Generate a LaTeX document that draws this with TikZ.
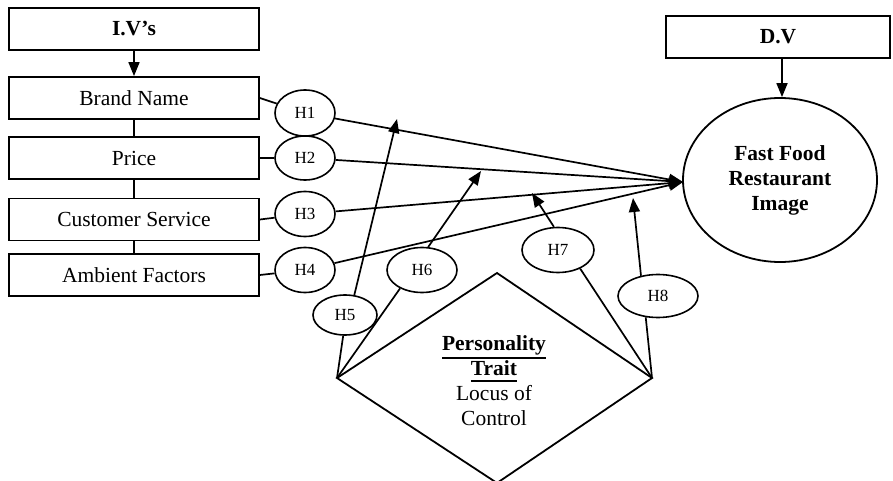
\documentclass[tikz,border=0pt]{standalone}
\usepackage{fontspec}
\setmainfont{Liberation Serif}
\usetikzlibrary{arrows.meta,shapes.geometric}
% bold word with a heavy rule a fixed distance below it
\newcommand{\ulbold}[2]{\leavevmode\vtop{\hbox{\textbf{#1}}\kern#2\hrule height 2pt}}
\begin{document}
\begin{tikzpicture}[x=1pt,y=-1pt,
  every node/.style={inner sep=0pt},
  box/.style={draw, line width=1.8pt, minimum width=250pt, minimum height=42pt,
    font=\fontsize{21.5}{25}\selectfont},
  hyp/.style={draw, ellipse, line width=1.6pt, font=\fontsize{17}{20}\selectfont},
  link/.style={line width=1.7pt},
  arr/.style={link, -{Triangle[length=14pt,width=11pt]}}
]
\useasboundingbox (0,0) rectangle (893,481);

% independent variables
\node[box] (iv) at (134,29) {\textbf{I.V’s}};
\node[box] (brand) at (134,98) {Brand Name};
\node[box] (price) at (134,158) {Price};
\node[box] (cs) at (134,219.5) {Customer Service};
\node[box] (amb) at (134,275) {Ambient Factors};
\draw[arr] (iv.south) -- (brand.north);
\draw[link] (brand.south) -- (price.north);
\draw[link] (price.south) -- (cs.north);
\draw[link] (cs.south) -- (amb.north);

% dependent variable
\node[box, minimum width=224pt] (dv) at (778,37) {\textbf{D.V}};
\node[draw, ellipse, line width=1.8pt, minimum width=194pt, minimum height=164pt,
  align=center, font=\fontsize{21.5}{25}\selectfont\bfseries] (ff) at (780,180)
  {Fast Food\\Restaurant\\Image};
\draw[arr] ([xshift=4pt]dv.south) -- ([xshift=2pt]ff.north);
\coordinate (tgt) at (683,182);

% hypotheses H1--H4
\node[hyp, minimum width=60pt, minimum height=46pt] (h1) at (305,113) {H1};
\node[hyp, minimum width=60pt, minimum height=44pt] (h2) at (305,158) {H2};
\node[hyp, minimum width=60pt, minimum height=45pt] (h3) at (305,214) {H3};
\node[hyp, minimum width=60pt, minimum height=45pt] (h4) at (305,270) {H4};
\draw[link] (brand.east) -- (h1);
\draw[link] (price.east) -- (h2);
\draw[link] (cs.east) -- (h3);
\draw[link] (amb.east) -- (h4);
\foreach \h in {h1,h2,h3,h4} \draw[arr] (\h) -- (tgt);

% moderator
\coordinate (dT) at (497,273);
\coordinate (dR) at (652,378);
\coordinate (dB) at (497,483);
\coordinate (dL) at (337,378);
\draw[line width=1.8pt, line join=miter] (dT) -- (dR) -- (dB) -- (dL) -- cycle;
\node[align=center, font=\fontsize{21.5}{25}\selectfont] (pt) at (494,381)
  {\ulbold{Personality}{1.5pt}\\\ulbold{Trait}{4pt}\\Locus of\\Control};

% hypotheses H5--H8
\node[hyp, minimum width=64pt, minimum height=40pt] (h5) at (345,315) {H5};
\node[hyp, minimum width=70pt, minimum height=45pt] (h6) at (422,270) {H6};
\node[hyp, minimum width=72pt, minimum height=45pt] (h7) at (558,250) {H7};
\node[hyp, minimum width=80pt, minimum height=43pt] (h8) at (658,296) {H8};
\coordinate (a5) at (397,119);
\coordinate (a6) at (481,171);
\coordinate (a7) at (532,193);
\coordinate (a8) at (633,198);
\draw[link] (dL) -- (h5.265);
\draw[link] (dL) -- (h6.220);
\draw[link] (dR) -- (h7.320);
\draw[link] (dR) -- (h8.240);
\draw[arr] (h5.65) -- (a5);
\draw[arr] (h6.75) -- (a6);
\draw[arr] (h7.100) -- (a7);
\draw[arr] (h8.130) -- (a8);
\end{tikzpicture}
\end{document}
